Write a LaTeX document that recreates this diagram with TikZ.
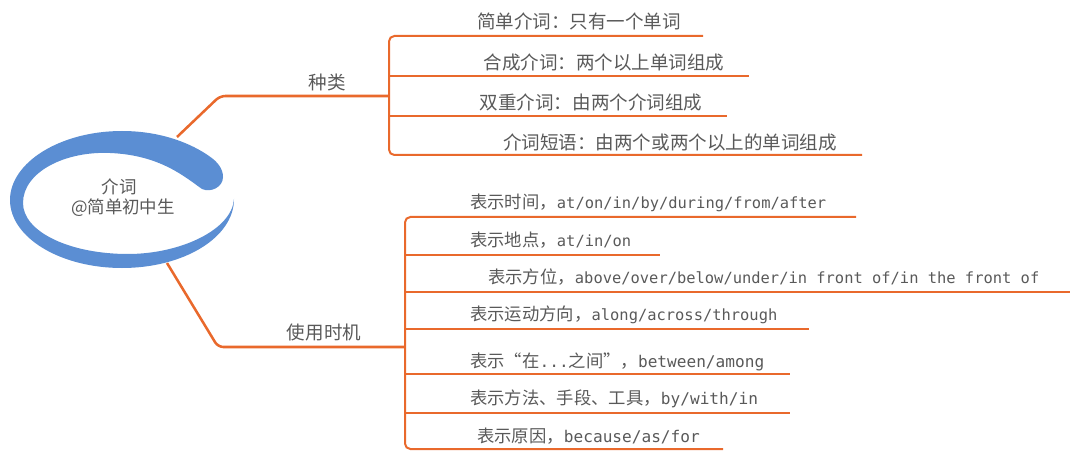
\documentclass[tikz,border=0pt]{standalone}
\usepackage{fontspec}
\setmainfont{Noto Sans CJK SC}
\newfontfamily\lat[Scale=0.89]{DejaVu Sans Mono}
\newfontfamily\lattwo[Scale=0.93]{DejaVu Sans Mono}
\definecolor{linkorange}{HTML}{E9692C}
\definecolor{txtgray}{HTML}{595959}
\definecolor{swirlblue}{HTML}{5B8ED3}
\tikzset{
  branch/.style={draw=linkorange, line width=1.9pt, rounded corners=4pt},
  leafline/.style={draw=linkorange, line width=1.5pt, rounded corners=4pt},
  uptext/.style={text=txtgray, inner sep=0pt, font=\fontsize{13.9}{16}\selectfont},
  lowtext/.style={text=txtgray, inner sep=0pt, anchor=west, font=\fontsize{13}{15}\selectfont},
  centertext/.style={text=txtgray, inner sep=0pt, font=\fontsize{13.1}{15}\selectfont},
}
\begin{document}
\begin{tikzpicture}[x=0.75pt,y=-0.75pt]
\useasboundingbox (0,0) rectangle (1080,470);
% ---------- upper branch ----------
\coordinate (zlA) at (177,137);
\coordinate (zlB) at (220,96);
\coordinate (zlC) at (389,96);
\draw[branch] (zlA) -- (zlB) -- (zlC);
\node[uptext] (zl) at (327,82) {种类};
\coordinate (ub1) at (389,36);
\coordinate (ub2) at (389,76);
\coordinate (ub3) at (389,116);
\coordinate (ub4) at (389,155);
\coordinate (ue1) at (703,36);
\coordinate (ue2) at (749,76);
\coordinate (ue3) at (727,116);
\coordinate (ue4) at (862,155);
\draw[leafline] (ue1) -- (ub1) -- (ub4) -- (ue4);
\draw[leafline] (ub2) -- (ue2);
\draw[leafline] (ub3) -- (ue3);
\node[uptext] (u1) at (579,21) {简单介词：只有一个单词};
\node[uptext] (u2) at (604,62) {合成介词：两个以上单词组成};
\node[uptext] (u3) at (591,102) {双重介词：由两个介词组成};
\node[uptext] (u4) at (670,142) {介词短语：由两个或两个以上的单词组成};
% ---------- lower branch ----------
\coordinate (syA) at (167,263);
\coordinate (syB) at (218,347);
\coordinate (syC) at (405,347);
\draw[branch] (syA) -- (syB) -- (syC);
\node[uptext] (sy) at (324,332) {使用时机};
\coordinate (lb1) at (405,217);
\coordinate (lb2) at (405,255);
\coordinate (lb3) at (405,292);
\coordinate (lb4) at (405,329);
\coordinate (lb5) at (405,374);
\coordinate (lb6) at (405,413);
\coordinate (lb7) at (405,449);
\coordinate (le1) at (856,217);
\coordinate (le2) at (660,255);
\coordinate (le3) at (1070,292);
\coordinate (le4) at (809,329);
\coordinate (le5) at (790,374);
\coordinate (le6) at (790,413);
\coordinate (le7) at (723,449);
\draw[leafline] (le1) -- (lb1) -- (lb7) -- (le7);
\foreach \i in {2,...,6} { \draw[leafline] (lb\i) -- (le\i); }
\node[lowtext] (l1) at (470,203) {表示时间，{\lat at/on/in/by/during/from/after}};
\node[lowtext] (l2) at (470,240) {表示地点，{\lat at/in/on}};
\node[lowtext] (l3) at (488,277) {表示方位，{\lat above/over/below/under/in front of/in the front of}};
\node[lowtext] (l4) at (470,315) {表示运动方向，{\lat along/across/through}};
\node[lowtext] (l5) at (470,362) {表示“在{\lattwo ...}之间”，{\lattwo between/among}};
\node[lowtext] (l6) at (470,399) {表示方法、手段、工具，{\lattwo by/with/in}};
\node[lowtext] (l7) at (477,436) {表示原因，{\lattwo because/as/for}};
% ---------- central swirl ----------
\fill[swirlblue]
  (234,199) .. controls (234,237.5) and (183.8,268) .. (122,268)
  .. controls (60.2,268) and (10,237.5) .. (10,200)
  .. controls (10,162.5) and (60.2,131) .. (122,131)
  .. controls (162,131) and (192,144) .. (209,156)
  .. controls (218,162) and (223,169) .. (223,177)
  .. controls (223,187) and (211,193) .. (202,189)
  .. controls (185,177) and (160,155) .. (110,153)
  .. controls (65,151) and (23,172) .. (23,203)
  .. controls (23,232) and (70,254) .. (128,254)
  .. controls (180,254) and (232,230) .. (234,199) -- cycle;
\node[centertext] (c1) at (119,187) {介词};
\node[centertext] (c2) at (123,208) {@简单初中生};
\end{tikzpicture}
\end{document}
